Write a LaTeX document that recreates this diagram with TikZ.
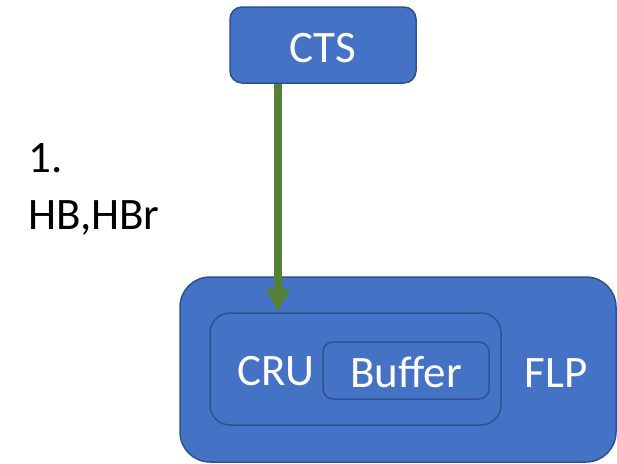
\documentclass[tikz,border=0pt]{standalone}
\usepackage{fontspec}
\setmainfont{Carlito}
\usetikzlibrary{arrows.meta}
\definecolor{boxfill}{HTML}{4472C4}
\definecolor{boxline}{HTML}{2F528F}
\definecolor{flowgreen}{HTML}{548235}
\tikzset{
  unit/.style={draw=boxline, fill=boxfill, line width=1.5pt, inner sep=0pt},
  lbl/.style={font=\fontsize{45}{57}\selectfont, text=white, inner sep=0pt, anchor=base},
  flow/.style={draw=flowgreen, line width=8.5pt, -{Triangle[width=23pt,length=23pt]}, shorten >=0.5pt}
}
\begin{document}
\begin{tikzpicture}[x=1pt,y=-1pt]
  \useasboundingbox (0,0) rectangle (617,463);
  % control system
  \node[unit, rounded corners=12pt, minimum width=186pt, minimum height=76pt] (CTS) at (323,45) {};
  \node[lbl] (ctslbl) at (323,62) {CTS};
  % processing node with its readout card and buffer
  \node[unit, rounded corners=30pt, minimum width=436pt, minimum height=185pt] (FLP) at (398,369.5) {};
  \node[unit, rounded corners=20pt, minimum width=291pt, minimum height=112pt] (CRU) at (355.5,369) {};
  \node[unit, rounded corners=10pt, minimum width=166pt, minimum height=57pt] (Buffer) at (406,370.5) {};
  \node[lbl] (crulbl) at (276,385) {CRU};
  \node[lbl] (buflbl) at (406,387) {Buffer};
  \node[lbl] (flplbl) at (556,387) {FLP};
  % message label
  \node[font=\fontsize{45}{57}\selectfont, inner sep=0pt, anchor=base west] (step1) at (28,172) {1.};
  \node[font=\fontsize{45}{57}\selectfont, inner sep=0pt, anchor=base west] (msg) at (28,229) {HB,HBr};
  % heartbeat flow
  \draw[flow] (CTS.south -| 278,0) -- (CRU.north -| 278,0);
\end{tikzpicture}
\end{document}
